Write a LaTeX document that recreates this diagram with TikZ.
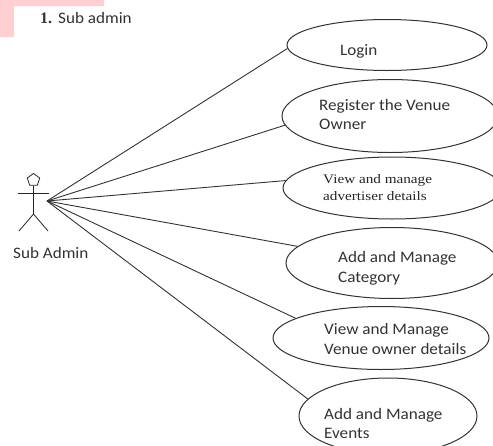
\documentclass[tikz,border=0pt]{standalone}
\usepackage{fontspec}
\setmainfont[FakeStretch=1.07]{Carlito}
\newfontfamily\serifface[FakeStretch=1.17]{Liberation Serif}
\newfontfamily\numface{Liberation Serif}
\usetikzlibrary{shapes.geometric}
\definecolor{inkc}{HTML}{333333}
\definecolor{pinkc}{HTML}{FFCFD2}
\tikzset{
  usecase/.style={draw=inkc,line width=1pt,ellipse,inner sep=0pt},
  label/.style={inner sep=0pt,text=inkc,anchor=base west,font=\fontsize{16}{16}\selectfont},
  slabel/.style={inner sep=0pt,text=black!85,anchor=base west,font=\serifface\fontsize{13}{13}\selectfont},
  assoc/.style={draw=inkc,line width=0.9pt},
  stick/.style={draw=black!85,line width=0.8pt}
}
\begin{document}
\begin{tikzpicture}[x=1pt,y=-1pt]
\useasboundingbox (0,0) rectangle (493,445);
\clip (0,0) rectangle (493,445);
\fill[white] (0,0) rectangle (493,445);
\fill[pinkc] (0,0) -- (104,0) -- (104,6) -- (14,6) -- (14,37) -- (0,37) -- cycle;
\node[inner sep=0pt,anchor=base west,text=inkc,font=\numface\bfseries\fontsize{16}{16}\selectfont] (num) at (40,23) {1.};
\node[label] (title) at (58,23) {Sub admin};
% actor
\node[regular polygon,regular polygon sides=5,stick,minimum size=13pt,inner sep=0pt] (head) at (33.5,180) {};
\coordinate (waist) at (33.5,214);
\coordinate (armL) at (18,193.5);
\coordinate (armR) at (49,193.5);
\coordinate (footL) at (19,231);
\coordinate (footR) at (48,231);
\draw[stick] (head.south) -- (waist) (armL) -- (armR) (waist) -- (footL) (waist) -- (footR);
\node[label] (actor) at (13,258) {Sub Admin};
\coordinate (hub) at (47,201);
% use cases
\node[usecase,minimum width=200pt,minimum height=51pt] (login) at (387,45) {};
\node[usecase,minimum width=216pt,minimum height=73pt] (reg) at (390,116) {};
\node[usecase,minimum width=218pt,minimum height=62pt] (view) at (392,188) {};
\node[usecase,minimum width=212pt,minimum height=71pt] (cat) at (392,263) {};
\node[usecase,minimum width=216pt,minimum height=63pt] (venue) at (381,338) {};
\node[usecase,minimum width=178pt,minimum height=76pt] (events) at (388,416) {};
% connectors
\draw[assoc] (hub) -- (login.182);
\draw[assoc] (hub) -- (reg.185.5);
\draw[assoc] (hub) -- (view.176);
\draw[assoc] (hub) -- (cat.170);
\draw[assoc] (hub) -- (venue.167.7);
\draw[assoc] (hub) -- (events.168.8);
% texts
\node[label] (t1) at (340,55) {Login};
\node[label] (t2a) at (319,110) {Register the Venue};
\node[label] (t2b) at (319,129) {Owner};
\node[slabel] (t3a) at (323,183) {View and manage};
\node[slabel] (t3b) at (323,200) {advertiser details};
\node[label] (t4a) at (338,262) {Add and Manage};
\node[label] (t4b) at (338,282) {Category};
\node[label] (t5a) at (324,334) {View and Manage};
\node[label] (t5b) at (324,354) {Venue owner details};
\node[label] (t6a) at (324,419) {Add and Manage};
\node[label] (t6b) at (324,438) {Events};
\end{tikzpicture}
\end{document}
